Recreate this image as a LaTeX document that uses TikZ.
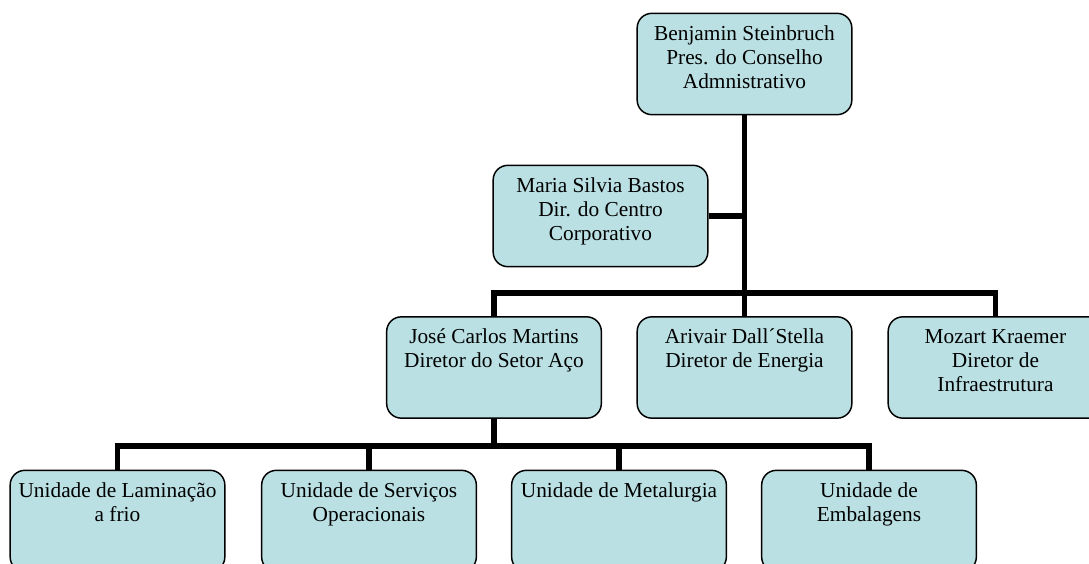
\documentclass[tikz,border=0pt]{standalone}
\usepackage{fontspec}
\setmainfont{Liberation Serif}
\definecolor{boxfill}{RGB}{186,224,227}
\newcommand\bxt[1]{\parbox[c][76pt][t]{161pt}{\centering\rule{0pt}{20pt}#1}}
\begin{document}
\begin{tikzpicture}[x=0.75pt,y=-0.75pt,
  orgbox/.style={draw=black,fill=boxfill,line width=1.1pt,rounded corners=11pt,
    inner sep=0pt,minimum width=161pt,minimum height=76pt,
    font=\fontsize{16}{18}\selectfont},
  conn/.style={line width=4.2pt,black}]
\clip (0,0) rectangle (1089,564);
\node[orgbox] (top) at (744.5,64) {\bxt{Benjamin Steinbruch\\Pres. do Conselho\\Admnistrativo}};
\node[orgbox] (maria) at (600.5,216) {\bxt{Maria Silvia Bastos\\Dir. do Centro\\Corporativo}};
\node[orgbox] (jose) at (494,367.5) {\bxt{José Carlos Martins\\Diretor do Setor Aço}};
\node[orgbox] (arivair) at (744.5,367.5) {\bxt{Arivair Dall´Stella\\Diretor de Energia}};
\node[orgbox] (mozart) at (995.5,367.5) {\bxt{Mozart Kraemer\\Diretor de\\Infraestrutura}};
\node[orgbox] (u1) at (117.5,521) {\bxt{Unidade de Laminação\\a frio}};
\node[orgbox] (u2) at (369,521) {\bxt{Unidade de Serviços\\Operacionais}};
\node[orgbox] (u3) at (619,521) {\bxt{Unidade de Metalurgia}};
\node[orgbox] (u4) at (869,521) {\bxt{Unidade de\\Embalagens}};
\coordinate (b2) at (744.5,293);
\coordinate (b3) at (494,446);
% connectors
\draw[conn] (top.south) -- (top.south |- b2);
\draw[conn] (maria.east) -- (maria.east -| top.south);
\draw[conn] (jose.north) |- (b2) -| (mozart.north);
\draw[conn] (arivair.north) -- (arivair.north |- b2);
\draw[conn] (jose.south) -- (jose.south |- b3);
\draw[conn] (u1.north) |- (b3) -| (u4.north);
\draw[conn] (u2.north) -- (u2.north |- b3);
\draw[conn] (u3.north) -- (u3.north |- b3);
\end{tikzpicture}
\end{document}
